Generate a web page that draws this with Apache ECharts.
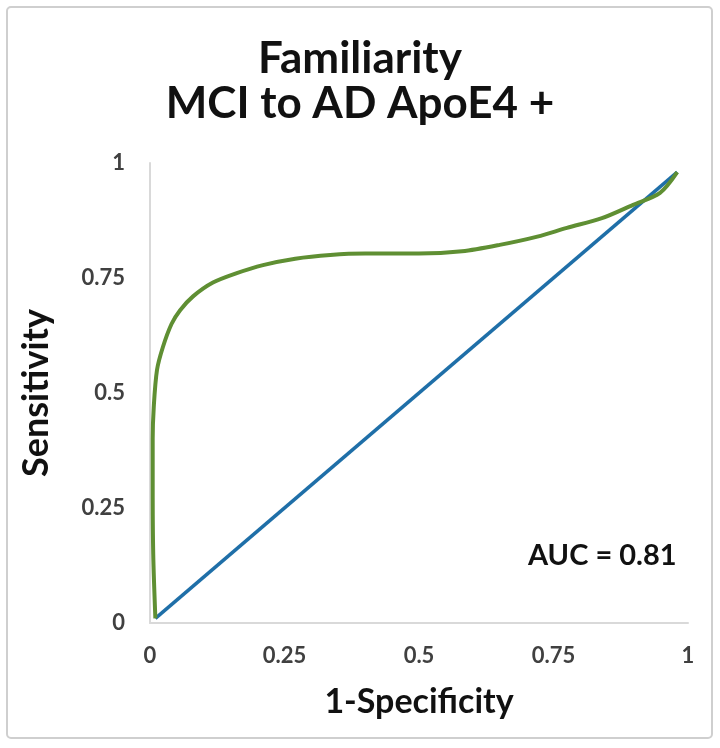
<!DOCTYPE html>
<html>
<head>
<meta charset="utf-8">
<script src="https://cdn.jsdelivr.net/npm/echarts@6/dist/echarts.min.js"></script>
<style>html,body{margin:0;padding:0;background:#fff}#c{width:720px;height:748px}</style>
</head>
<body>
<div id="c"></div>
<script>
const titleLines = ['Familiarity', 'MCI to AD ApoE4 +'];
const xTicks = [0, 0.25, 0.5, 0.75, 1];
const yTicks = [0, 0.25, 0.5, 0.75, 1];
const xName = '1-Specificity';
const yName = 'Sensitivity';
const aucText = 'AUC = 0.81';
const rocX = [0.01, 0.006, 0.005, 0.005, 0.007, 0.013, 0.024, 0.04, 0.056, 0.08, 0.117, 0.16, 0.21, 0.27, 0.335, 0.4, 0.5, 0.58, 0.65, 0.72, 0.775, 0.84, 0.898, 0.948, 0.98];
const rocY = [0.01, 0.15, 0.3, 0.4, 0.47, 0.55, 0.6, 0.65, 0.68, 0.71, 0.74, 0.76, 0.778, 0.792, 0.8, 0.803, 0.803, 0.808, 0.822, 0.84, 0.859, 0.88, 0.909, 0.935, 0.98];
const refX = [0.01, 0.98];
const refY = [0.01, 0.98];

const FONT = "Lato, 'Open Sans', sans-serif";
const chart = echarts.init(document.getElementById('c'));
chart.setOption({
  animation: false,
  title: {
    text: titleLines.join('\n'),
    left: 'center', top: 31,
    textStyle: { fontFamily: FONT, fontWeight: 'bold', fontSize: 44, lineHeight: 45, color: '#111' }
  },
  graphic: [
    { type: 'rect', shape: { x: 7, y: 7, width: 705, height: 731, r: 4 }, style: { fill: 'none', stroke: '#cfcfcf', lineWidth: 2 }, z: -1 },
    { type: 'text', left: 528, top: 541, style: { text: aucText, font: "bold 29px Lato, 'Open Sans', sans-serif", fill: '#111' } }
  ],
  grid: { left: 150, right: 32, top: 163, bottom: 125 },
  xAxis: {
    type: 'value', min: 0, max: 1, interval: 0.25,
    name: xName, nameLocation: 'middle', nameGap: 62,
    nameTextStyle: { fontFamily: FONT, fontWeight: 'bold', fontSize: 34, color: '#111' },
    axisLine: { show: true, lineStyle: { color: '#d9d9d9', width: 2 } },
    axisTick: { show: false }, splitLine: { show: false },
    axisLabel: { margin: 22, fontFamily: FONT, fontWeight: 'bold', fontSize: 22, color: '#404040',
      formatter: v => String(xTicks.find(t => Math.abs(t - v) < 1e-9) ?? v) }
  },
  yAxis: {
    type: 'value', min: 0, max: 1, interval: 0.25,
    name: yName, nameLocation: 'middle', nameGap: 96,
    nameTextStyle: { fontFamily: FONT, fontWeight: 'bold', fontSize: 36, color: '#111' },
    axisLine: { show: true, lineStyle: { color: '#d9d9d9', width: 2 } },
    axisTick: { show: false }, splitLine: { show: false },
    axisLabel: { margin: 25, fontFamily: FONT, fontWeight: 'bold', fontSize: 22, color: '#404040',
      formatter: v => String(yTicks.find(t => Math.abs(t - v) < 1e-9) ?? v) }
  },
  series: [
    { type: 'line', data: refX.map((x, i) => [x, refY[i]]), symbol: 'none',
      lineStyle: { color: '#1f6fa8', width: 3.5 }, z: 2 },
    { type: 'line', data: rocX.map((x, i) => [x, rocY[i]]), symbol: 'none', smooth: 0.3,
      lineStyle: { color: '#5f8f33', width: 4 }, z: 3 }
  ]
});
</script>
</body>
</html>
